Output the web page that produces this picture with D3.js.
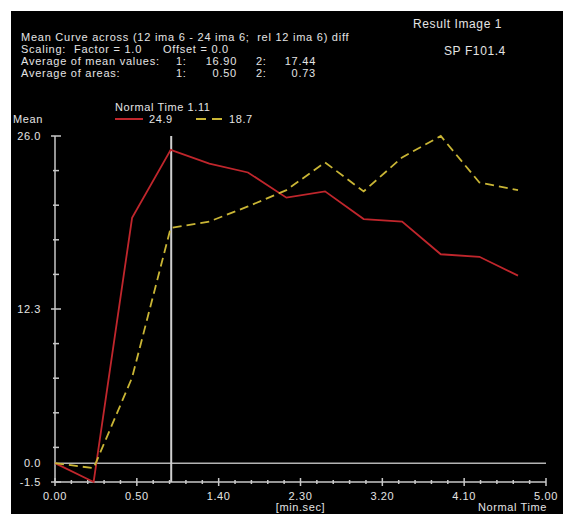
<!DOCTYPE html>
<html>
<head>
<meta charset="utf-8">
<script src="https://cdn.jsdelivr.net/npm/d3@7"></script>
<style>
  body { margin: 0; background: #fff; }
  text { font-family: "Liberation Sans", Arial, sans-serif; fill: #e4e4e4; white-space: pre; letter-spacing: 0.6px; }
  .head text { letter-spacing: 0.75px; }
</style>
</head>
<body>
<div id="chart"></div>
<script>
// sample times (seconds) and the two mean curves
var times = [0, 23.6, 47.1, 70.7, 94.3, 117.9, 141.4, 165.0, 188.6, 212.1, 235.7, 259.3, 282.9];
var curve1 = [0.0, -1.5, 19.5, 24.9, 23.8, 23.1, 21.1, 21.6, 19.4, 19.2, 16.6, 16.4, 14.9];
var curve2 = [0.0, -0.4, 6.8, 18.7, 19.2, 20.4, 21.7, 23.9, 21.6, 24.3, 26.0, 22.3, 21.7];
var normalTime = 71;   // 1.11 min.sec
var normalIndex = 3;

var xTicks = [0, 50, 100, 150, 200, 250, 300];
var yLabelTicks = [26.0, 12.25, 0.0, -1.5];
var yLabels = ["26.0", "12.3", "0.0", "-1.5"];

var title = "Mean Curve across (12 ima 6 - 24 ima 6;  rel 12 ima 6) diff";
var scaling = ["Scaling:", "Factor = 1.0", "Offset = 0.0"];
var meanValues = ["16.90", "17.44"];
var areaValues = ["0.50", "0.73"];
var resultName = "Result Image 1";
var seriesName = "SP F101.4";

var W = 563, H = 514;
var red = "#c0262c", yellow = "#c9b535", axisCol = "#c8c8c8";

var svg = d3.select("#chart").append("svg")
  .attr("width", W)
  .attr("height", H);

svg.append("rect")
  .attr("x", 11).attr("y", 11)
  .attr("width", W - 11).attr("height", H - 11)
  .attr("fill", "#000");

var x = d3.scaleLinear().domain([0, 300]).range([55, 546]);
var y = d3.scaleLinear().domain([-1.5, 26]).range([482, 136]);

// header text
var head = svg.append("g").attr("class", "head").style("font-size", "11px");
head.append("text").attr("x", 21).attr("y", 41).text(title);
head.append("text").attr("x", 21).attr("y", 53).text(scaling[0]);
head.append("text").attr("x", 74).attr("y", 53).text(scaling[1]);
head.append("text").attr("x", 163).attr("y", 53).text(scaling[2]);

head.append("text").attr("x", 21).attr("y", 65).text("Average of mean values:");
head.append("text").attr("x", 21).attr("y", 77).text("Average of areas:");
[65, 77].forEach(function(yy, row) {
  var vals = row == 0 ? meanValues : areaValues;
  head.append("text").attr("x", 176).attr("y", yy).text("1:");
  head.append("text").attr("x", 237).attr("y", yy).attr("text-anchor", "end").text(vals[0]);
  head.append("text").attr("x", 256).attr("y", yy).text("2:");
  head.append("text").attr("x", 316).attr("y", yy).attr("text-anchor", "end").text(vals[1]);
});

svg.append("text").attr("x", 413).attr("y", 28).style("font-size", "12px").text(resultName);
svg.append("text").attr("x", 444).attr("y", 55).style("font-size", "12px").text(seriesName);

// legend
var fmt = d3.format(".1f");
var minSec = function(s) {
  var m = Math.floor(s / 60), r = Math.round(s % 60);
  return m + "." + (r < 10 ? "0" : "") + r;
};
var leg = svg.append("g").style("font-size", "11px");
leg.append("text").attr("x", 115).attr("y", 111).text("Normal Time " + minSec(normalTime));
leg.append("line").attr("x1", 115).attr("x2", 143).attr("y1", 119).attr("y2", 119)
  .attr("stroke", red).attr("stroke-width", 2);
leg.append("text").attr("x", 149).attr("y", 123).text(fmt(curve1[normalIndex]));
leg.append("line").attr("x1", 196).attr("x2", 223).attr("y1", 119).attr("y2", 119)
  .attr("stroke", yellow).attr("stroke-width", 2).attr("stroke-dasharray", "10,6");
leg.append("text").attr("x", 229).attr("y", 123).text(fmt(curve2[normalIndex]));

svg.append("text").attr("x", 13).attr("y", 123).style("font-size", "11px").text("Mean");

// axes
var g = svg.append("g");
g.append("line")
  .attr("x1", x(0)).attr("x2", x(0)).attr("y1", y(26)).attr("y2", y(-1.5))
  .attr("stroke", axisCol).attr("stroke-width", 1.5);
g.append("line")
  .attr("x1", x(0)).attr("x2", x(300)).attr("y1", y(-1.5)).attr("y2", y(-1.5))
  .attr("stroke", axisCol).attr("stroke-width", 1.5);
g.append("line")
  .attr("x1", x(0)).attr("x2", x(300)).attr("y1", y(0)).attr("y2", y(0))
  .attr("stroke", "#b4b4b4").attr("stroke-width", 1.5);

// y ticks
var yMinor = d3.range(0, 11).map(function(i) { return -1.5 + i * 2.75; });
var isMajor = function(d) { return d == 26 || d == -1.5 || d == 12.25; };
g.selectAll(".ymin").data(yMinor).enter().append("line")
  .attr("x1", function(d) { return isMajor(d) ? x(0) - 4 : x(0) - 2; })
  .attr("x2", function(d) { return isMajor(d) ? x(0) + 6 : x(0) + 4; })
  .attr("y1", function(d) { return y(d); })
  .attr("y2", function(d) { return y(d); })
  .attr("stroke", axisCol).attr("stroke-width", 1.5);

g.selectAll(".ylab").data(yLabelTicks).enter().append("text")
  .attr("x", 41)
  .attr("y", function(d) { return y(d); })
  .attr("dy", "0.35em")
  .attr("text-anchor", "end")
  .style("font-size", "11px")
  .text(function(d, i) { return yLabels[i]; });

// x ticks
var xMinor = d3.range(0, 301, 10);
g.selectAll(".xmin").data(xMinor).enter().append("line")
  .attr("x1", function(d) { return x(d); })
  .attr("x2", function(d) { return x(d); })
  .attr("y1", function(d) { return d % 50 == 0 ? y(-1.5) - 4 : y(-1.5) - 2; })
  .attr("y2", function(d) { return d % 50 == 0 ? y(-1.5) + 4 : y(-1.5) + 2; })
  .attr("stroke", axisCol).attr("stroke-width", 1.5);

g.selectAll(".xlab").data(xTicks).enter().append("text")
  .attr("x", function(d) { return x(d); })
  .attr("y", 500)
  .attr("text-anchor", "middle")
  .style("font-size", "11px")
  .text(minSec);

svg.append("text").attr("x", x(150)).attr("y", 511).attr("text-anchor", "middle")
  .style("font-size", "11px").text("[min.sec]");
svg.append("text").attr("x", 547).attr("y", 511).attr("text-anchor", "end")
  .style("font-size", "11px").text("Normal Time");

// normal time marker
g.append("line")
  .attr("x1", x(normalTime)).attr("x2", x(normalTime))
  .attr("y1", y(26)).attr("y2", y(-1.5))
  .attr("stroke", "#d0d0d0").attr("stroke-width", 2);

// curves
var line = d3.line()
  .x(function(d, i) { return x(times[i]); })
  .y(function(d) { return y(d); });

svg.append("path").datum(curve1)
  .attr("d", line).attr("fill", "none")
  .attr("stroke", red).attr("stroke-width", 1.8);

svg.append("path").datum(curve2)
  .attr("d", line).attr("fill", "none")
  .attr("stroke", yellow).attr("stroke-width", 1.8)
  .attr("stroke-dasharray", "9,5");
</script>
</body>
</html>
